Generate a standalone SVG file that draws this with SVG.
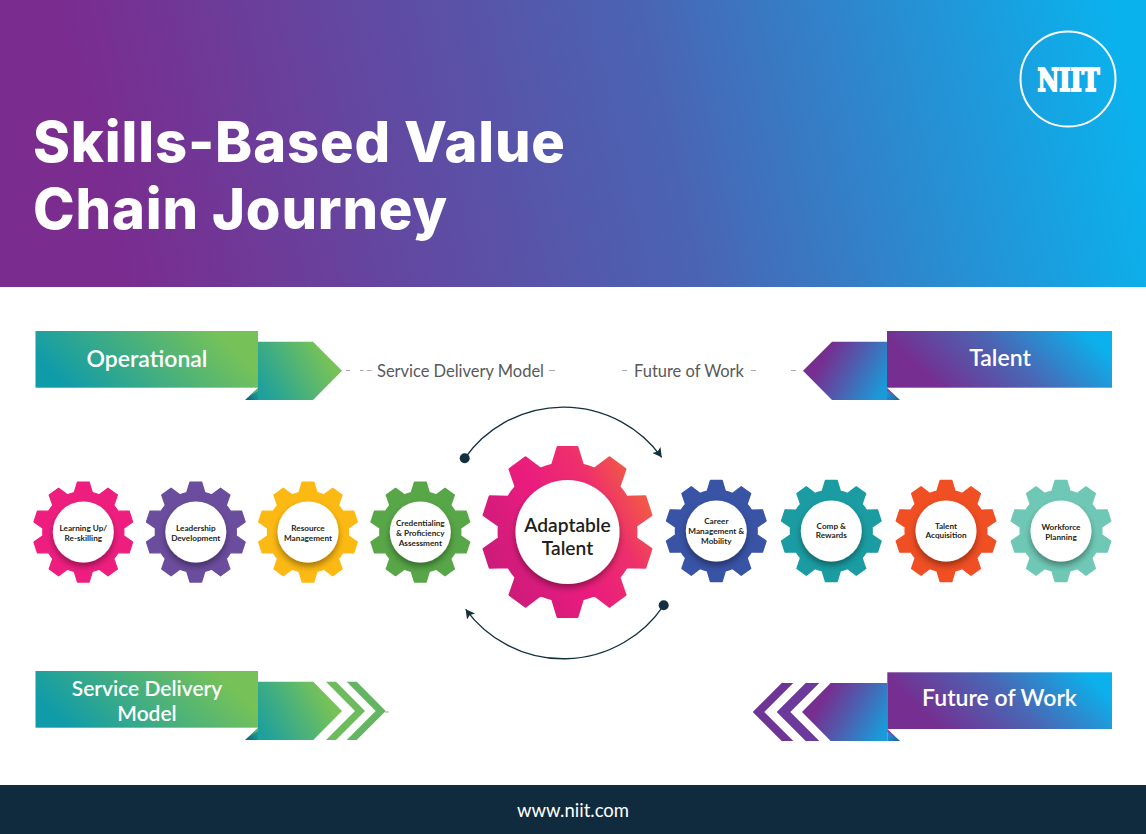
<svg xmlns="http://www.w3.org/2000/svg" width="1146" height="834" viewBox="0 0 1146 834">
<style>
text{font-family:Lato,"Open Sans",sans-serif}
.title{font-family:Inter,"Open Sans",sans-serif;font-weight:800;font-size:56px;fill:#fff}
.ban{font-weight:600;fill:#fff;text-anchor:middle}
.g{font-weight:700;font-size:8.2px;fill:#231f20;text-anchor:middle}
.lab{font-size:16.5px;fill:#58595b}
.big{font-weight:600;font-size:19.2px;fill:#231f20;text-anchor:middle}
.dash{stroke:#a7a9ac;stroke-width:1.2;fill:none}
.arc{stroke:#12303f;stroke-width:1.3;fill:none}
.hub{fill:#fff;filter:url(#sh)}
.foldg{fill:url(#fg)}
.foldb{fill:url(#fb)}
</style>
<defs>
<linearGradient id="hd" gradientUnits="userSpaceOnUse" x1="110" y1="220" x2="1110" y2="0"><stop offset="0" stop-color="#7a2c8f"/><stop offset=".55" stop-color="#4a64b3"/><stop offset="1" stop-color="#0ab2ed"/></linearGradient>
<linearGradient id="gr" x1="0" y1=".63" x2="1" y2=".37"><stop offset=".04" stop-color="#109ba9"/><stop offset=".92" stop-color="#77c258"/></linearGradient>
<linearGradient id="pu" x1="0" y1=".63" x2="1" y2=".37"><stop offset=".12" stop-color="#762e90"/><stop offset=".55" stop-color="#4a66b4"/><stop offset=".98" stop-color="#0bb1ec"/></linearGradient>
<linearGradient id="gra" x1="0" y1=".7" x2="1" y2=".3"><stop offset="0" stop-color="#1fa19b"/><stop offset=".85" stop-color="#77c258"/></linearGradient>
<linearGradient id="pua" x1="0" y1=".3" x2="1" y2=".7"><stop offset=".2" stop-color="#762e90"/><stop offset=".6" stop-color="#4a62b2"/><stop offset="1" stop-color="#1a9ad8"/></linearGradient>
<linearGradient id="pk" x1="0" y1=".78" x2="1" y2=".22"><stop offset="0" stop-color="#c61b79"/><stop offset=".45" stop-color="#ea1c7e"/><stop offset=".72" stop-color="#ee2f6c"/><stop offset="1" stop-color="#f3663a"/></linearGradient>
<linearGradient id="fg" x1="0" y1="1" x2="1" y2=".4"><stop offset="0" stop-color="#0d5f78"/><stop offset="1" stop-color="#16a09f"/></linearGradient>
<linearGradient id="fb" x1="1" y1="1" x2="0" y2=".4"><stop offset="0" stop-color="#1c5e9e"/><stop offset="1" stop-color="#2a8fd0"/></linearGradient>
<filter id="sh" x="-30%" y="-30%" width="160%" height="170%"><feDropShadow dx="0" dy="4" stdDeviation="3" flood-color="#000" flood-opacity=".36"/></filter>
<path id="gear" stroke-width="2.5" stroke-linejoin="round" d="M-18-79L-11.6-100H11.6L18-79A81 81 0 0 1 31.89-74.49L49.42-87.72L68.18-74.08L61.01-53.33A81 81 0 0 1 69.57-41.53L91.52-41.93L98.68-19.87L80.69-7.29A81 81 0 0 1 80.69 7.29L98.68 19.87L91.52 41.93L69.57 41.53A81 81 0 0 1 61.01 53.33L68.18 74.08L49.42 87.72L31.89 74.49A81 81 0 0 1 18 79L11.6 100H-11.6L-18 79A81 81 0 0 1-31.89 74.49L-49.42 87.72L-68.18 74.08L-61.01 53.33A81 81 0 0 1-69.57 41.53L-91.52 41.93L-98.68 19.87L-80.69 7.29A81 81 0 0 1-80.69-7.29L-98.68-19.87L-91.52-41.93L-69.57-41.53A81 81 0 0 1-61.01-53.33L-68.18-74.08L-49.42-87.72L-31.89-74.49A81 81 0 0 1-18-79Z"/>
<marker id="ah" markerUnits="userSpaceOnUse" markerWidth="12" markerHeight="12" refX="9" refY="5" orient="auto"><path d="M0 0L9 5L0 10L2 5Z" fill="#12303f"/></marker>
</defs>

<rect id="header" width="1146" height="287" fill="url(#hd)"/>
<text class="title" x="33" y="162" textLength="532">Skills-Based Value</text>
<text class="title" x="33" y="229" textLength="414">Chain Journey</text>
<g id="logo">
<circle cx="1068" cy="79" r="47.5" fill="none" stroke="#fff" stroke-width="2"/>
<text x="1068.5" y="91" text-anchor="middle" textLength="62" lengthAdjust="spacingAndGlyphs" style="font-family:'DejaVu Serif',serif;font-weight:700;font-size:31px;fill:#fff;stroke:#fff;stroke-width:2">NIIT</text>
</g>

<g id="connectors">
<path class="dash" d="M346 370.500h4M360 370.500h3.500M367 370.500h4.500"/>
<path class="dash" d="M549 370.500h6M622 370.500h5M751 370.500h5M791 370.500h5M385 712h4"/>
<path class="arc" d="M464.700 458.300A121 121 0 0 1 661.700 457.300" marker-end="url(#ah)"/>
<path class="arc" d="M663.700 605.300A121 121 0 0 1 465.700 609.300" marker-end="url(#ah)"/>
<circle cx="464.700" cy="458.300" r="5" fill="#12303f"/>
<circle cx="663.700" cy="605.300" r="5" fill="#12303f"/>
</g>
<text class="lab" x="377" y="376.500" textLength="167">Service Delivery Model</text>
<text class="lab" x="634" y="376.500" textLength="110">Future of Work</text>

<g id="banner-operational">
<path d="M258 341.700H313L342 370.700L313 400H258Z" fill="url(#gra)"/>
<path class="foldg" d="M245 400L258 388V400Z"/>
<path d="M250 395.500L258 388V391Z" fill="#6ab55a"/>
<rect x="35.500" y="331" width="222.500" height="56.700" fill="url(#gr)"/>
<text class="ban" x="147" y="367" font-size="23">Operational</text>
</g>
<g id="banner-talent">
<path d="M887 341.700H832L803 370.700L832 400H887Z" fill="url(#pua)"/>
<path class="foldb" d="M900 400L887 388V400Z"/>
<path d="M895 395.500L887 388V391Z" fill="#a13a9b"/>
<rect x="887" y="331" width="225" height="56.700" fill="url(#pu)"/>
<text class="ban" x="1000" y="366" font-size="23">Talent</text>
</g>
<g id="banner-service">
<path d="M258 681.700H313.300L342 711L313.300 740H258Z" fill="url(#gra)"/>
<path d="M326 681.700H336L365 711L336 740H326L355 711Z" fill="#6cbb5c"/>
<path d="M346.700 681.700H356.700L385.700 711L356.700 740H346.700L375.700 711Z" fill="#62b561"/>
<path class="foldg" d="M245 740L258 728V740Z"/>
<path d="M250 735.500L258 728V731Z" fill="#6ab55a"/>
<rect x="35.500" y="671" width="222.500" height="56.700" fill="url(#gr)"/>
<text class="ban" x="147" y="696" font-size="21">Service Delivery</text>
<text class="ban" x="147" y="721" font-size="21">Model</text>
</g>
<g id="banner-future">
<path d="M887.300 683H830.700L802 712L830.700 741H887.300Z" fill="url(#pua)"/>
<path d="M819.300 683H805.700L776.700 712L805.700 741H819.300L790.300 712Z" fill="#6b3a9a"/>
<path d="M793.300 683H781.700L752.700 712L781.700 741H793.300L764.300 712Z" fill="#6f3596"/>
<path class="foldb" d="M900 741L887.300 729V741Z"/>
<path d="M895 736.500L887.300 729V732Z" fill="#a13a9b"/>
<rect x="887.300" y="672.300" width="224.700" height="56.700" fill="url(#pu)"/>
<text class="ban" x="999.500" y="706" font-size="23">Future of Work</text>
</g>

<g id="gear-learning"><use href="#gear" fill="#ee1e7f" stroke="#ee1e7f" transform="translate(83.300 532) scale(.5)"/><circle class="hub" cx="83.300" cy="532" r="30.500"/><text class="g" x="83.300" y="530.500">Learning Up/</text><text class="g" x="83.300" y="540.500">Re-skilling</text></g>
<g id="gear-leadership"><use href="#gear" fill="#6b4d9d" stroke="#6b4d9d" transform="translate(195.800 532) scale(.5)"/><circle class="hub" cx="195.800" cy="532" r="30.500"/><text class="g" x="195.800" y="530.500">Leadership</text><text class="g" x="195.800" y="541">Development</text></g>
<g id="gear-resource"><use href="#gear" fill="#fdb913" stroke="#fdb913" transform="translate(308 532) scale(.5)"/><circle class="hub" cx="308" cy="532" r="30.500"/><text class="g" x="308" y="531">Resource</text><text class="g" x="308" y="540.500">Management</text></g>
<g id="gear-credentialing"><use href="#gear" fill="#57a647" stroke="#57a647" transform="translate(420.300 532) scale(.5)"/><circle class="hub" cx="420.300" cy="532" r="30.500"/><text class="g" x="420.300" y="526">Credentialing</text><text class="g" x="420.300" y="536">&amp; Proficiency</text><text class="g" x="420.300" y="546">Assessment</text></g>
<g id="gear-adaptable"><use href="#gear" fill="url(#pk)" stroke="url(#pk)" transform="translate(567.500 532) scale(.85)"/><circle class="hub" cx="567.500" cy="532" r="52"/><text class="big" x="567.500" y="531.700">Adaptable</text><text class="big" x="567.500" y="555">Talent</text></g>
<g id="gear-career"><use href="#gear" fill="#3953a5" stroke="#3953a5" transform="translate(716.300 531) scale(.505)"/><circle class="hub" cx="716.300" cy="531" r="30.500"/><text class="g" x="716.300" y="524">Career</text><text class="g" x="716.300" y="534">Management &amp;</text><text class="g" x="716.300" y="544">Mobility</text></g>
<g id="gear-comp"><use href="#gear" fill="#1a9ca2" stroke="#1a9ca2" transform="translate(831.300 531) scale(.505)"/><circle class="hub" cx="831.300" cy="531" r="30.500"/><text class="g" x="831.300" y="528.600">Comp &amp;</text><text class="g" x="831.300" y="538">Rewards</text></g>
<g id="gear-talent"><use href="#gear" fill="#f04e23" stroke="#f04e23" transform="translate(946 531) scale(.505)"/><circle class="hub" cx="946" cy="531" r="30.500"/><text class="g" x="946" y="528.600">Talent</text><text class="g" x="946" y="538">Acquisition</text></g>
<g id="gear-workforce"><use href="#gear" fill="#6fc8b5" stroke="#6fc8b5" transform="translate(1061 531) scale(.505)"/><circle class="hub" cx="1061" cy="531" r="30.500"/><text class="g" x="1061" y="529.500">Workforce</text><text class="g" x="1061" y="540">Planning</text></g>

<g id="footer"><rect y="785" width="1146" height="49" fill="#0f2b3d"/><text x="573" y="816.500" text-anchor="middle" style="font-size:18.500px;font-weight:400;fill:#fff">www.niit.com</text></g>
</svg>
